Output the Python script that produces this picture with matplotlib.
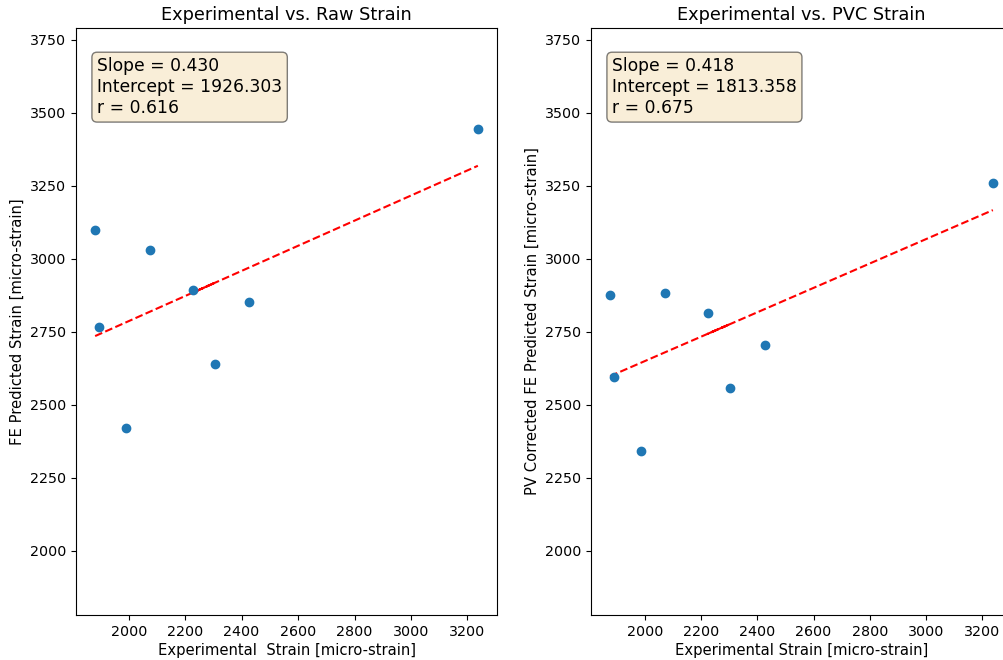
import matplotlib
matplotlib.use("Agg")
import matplotlib.pyplot as plt
import numpy as np

# Data
exp_strain = [1881, 1893, 1989, 2074, 2227, 2306, 2427, 3237]
raw_strain = [3100, 2766, 2420, 3031, 2892, 2641, 2852, 3445]

exp_strain_pvc = [1877, 1890, 1987, 2071, 2225, 2303, 2426, 3237]
pvc_strain = [2877, 2595, 2342, 2882, 2815, 2559, 2705, 3260]

fit_raw = (0.430, 1926.303, 0.616)
fit_pvc = (0.418, 1813.358, 0.675)

titles = ["Experimental vs. Raw Strain", "Experimental vs. PVC Strain"]
xlabels = ["Experimental  Strain [micro-strain]", "Experimental Strain [micro-strain]"]
ylabels = ["FE Predicted Strain [micro-strain]", "PV Corrected FE Predicted Strain [micro-strain]"]

fig = plt.figure(figsize=(10.04, 6.6), dpi=100)
W, H = 1004, 660
ax1 = fig.add_axes([76 / W, 45 / H, 421 / W, 587 / H])
ax2 = fig.add_axes([591 / W, 45 / H, 421 / W, 587 / H])

datasets = [(exp_strain, raw_strain, fit_raw), (exp_strain_pvc, pvc_strain, fit_pvc)]
for ax, (xs, ys, fit), title, xl, yl in zip([ax1, ax2], datasets, titles, xlabels, ylabels):
    xs = np.array(xs, dtype=float)
    ys = np.array(ys, dtype=float)
    slope, intercept, r = fit
    ax.scatter(xs, ys, color="#1f77b4", s=36, zorder=3)
    order = [0, 1, 2, 3, 5, 4, 6, 7]
    xo = xs[order]
    ax.plot(xo, slope * xo + intercept, "r--", linewidth=1.5)
    ax.set_title(title, fontsize=12.8)
    ax.set_xlabel(xl, fontsize=10.6, labelpad=3)
    ax.set_ylabel(yl, fontsize=10.6)
    ax.set_ylim(1780, 3790)
    ax.set_yticks(np.arange(2000, 3751, 250))
    ax.set_xticks(np.arange(2000, 3201, 200))
    ax.tick_params(labelsize=10.3)
    txt = f"Slope = {slope:.3f}\nIntercept = {intercept:.3f}\nr = {r:.3f}"
    ax.text(0.05, 0.95, txt, transform=ax.transAxes, fontsize=12.35,
            verticalalignment="top",
            bbox=dict(boxstyle="round", facecolor="wheat", alpha=0.5))

fig.savefig("out.png", dpi=100)
